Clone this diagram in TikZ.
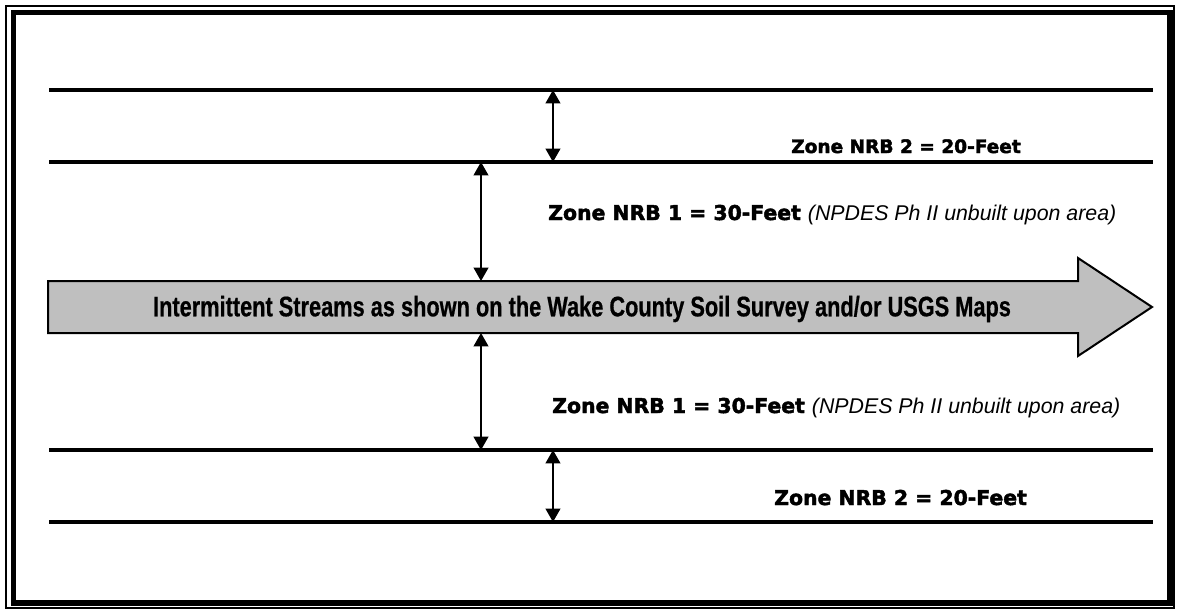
\documentclass[tikz,border=0pt]{standalone}
\usepackage{fontspec}
\setmainfont{Liberation Sans}
\newfontfamily\heavyfont{DejaVu Sans}[BoldFeatures={FakeBold=2.2}]
\newfontfamily\narrowfont{Liberation Sans}[FakeStretch=0.77,BoldFeatures={FakeBold=0.6}]
\usepackage{tikz}
\usetikzlibrary{arrows.meta,positioning,calc}
\tikzstyle{zoneline}=[line width=2.4pt]
\tikzstyle{span}=[line width=1.4pt,{Triangle[width=11pt,length=10pt]}-{Triangle[width=11pt,length=10pt]}]
\tikzstyle{zonelabel}=[anchor=base west,inner sep=0pt,font=\heavyfont\bfseries\fontsize{15.3}{18}\selectfont]
\newcommand{\npdes}{{\normalfont\itshape\fontsize{16}{18}\selectfont (NPDES Ph II unbuilt upon area)}}

\begin{document}
\begin{tikzpicture}[x=0.75pt,y=-0.75pt]
\useasboundingbox (0,0) rectangle (1178,611);
% frame
\draw[line width=1.5pt] (6,6) rectangle (1174,608);
\draw[line width=3.8pt] (13.5,12.5) rectangle (1170,603);
% buffer lines
\foreach \name/\y in {topa/90,topb/162,bota/450,botb/522}{
  \coordinate (\name w) at (49,\y);
  \coordinate (\name e) at (1153,\y);
  \draw[zoneline] (\name w) -- (\name e);
}
% stream arrow
\draw[line width=1.5pt,fill=black!25] (48,281) -- (1078,281) -- (1078,258) -- (1152,307)
  -- (1078,356) -- (1078,333) -- (48,333) -- cycle;
\node (stream) at (582,309) {\narrowfont\bfseries\fontsize{21.2}{24}\selectfont Intermittent Streams as shown on the Wake County Soil Survey and/or USGS Maps};
\coordinate (streamtop) at (481,281);
\coordinate (streambot) at (481,333);
% spans
\draw[span] ($(topaw)!0.4565!(topae)$) -- ($(topbw)!0.4565!(topbe)$);
\draw[span] ($(topbw)!0.3913!(topbe)$) -- (streamtop);
\draw[span] (streambot) -- ($(botaw)!0.3913!(botae)$);
\draw[span] ($(botaw)!0.4565!(botae)$) -- ($(botbw)!0.4565!(botbe)$);
% labels
\node[zonelabel,font=\heavyfont\bfseries\fontsize{13.9}{17}\selectfont] (nrb2top) at (791,153) {Zone NRB 2 = 20-Feet};
\node[zonelabel] (nrb1top) at (548,220) {Zone NRB 1 = 30-Feet \npdes};
\node[zonelabel] (nrb1bot) at (552,413) {Zone NRB 1 = 30-Feet \npdes};
\node[zonelabel] (nrb2bot) at (774,505) {Zone NRB 2 = 20-Feet};
\end{tikzpicture}
\end{document}
